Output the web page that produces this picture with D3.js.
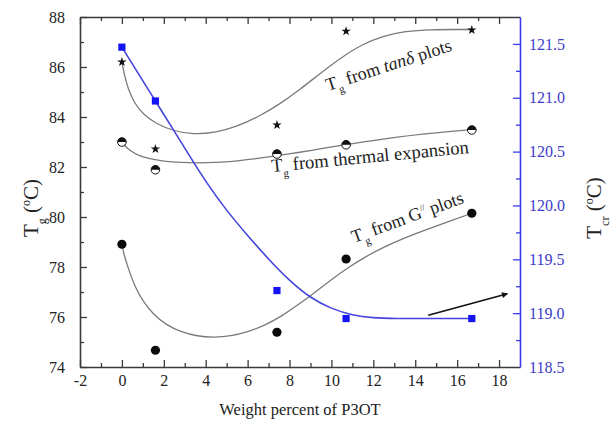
<!DOCTYPE html>
<html>
<head>
<meta charset="utf-8">
<script src="https://cdn.jsdelivr.net/npm/d3@7"></script>
<style>
  body { margin: 0; background: #fff; }
  svg { display: block; }
</style>
</head>
<body>
<svg id="chart" width="613" height="421"></svg>
<script>
// P3OT loading (wt%) of the measured blends
const loading = [0, 1.6, 7.4, 10.7, 16.7];

// Glass transition temperatures (left axis, °C)
const tgTanDelta = [86.2, 82.72, 83.68, 87.43, 87.48];
const tgThermal = [83.0, 81.89, 82.52, 82.89, 83.48];
const tgLossModulus = [78.91, 74.67, 75.39, 78.32, 80.15];

// Crystallisation temperature (right axis, °C)
const tcr = [121.47, 120.97, 119.21, 118.95, 118.95];

// Smoothed trend curves, sampled as [wt%, value]
const trendTanDelta = [[0,86.2],[0.1,85.75],[0.3,85.1],[0.6,84.55],[1.0,84.12],[1.6,83.74],[2.5,83.43],[3.4,83.3],[4.5,83.38],[5.5,83.62],[6.5,84.0],[7.5,84.5],[8.5,85.1],[9.5,85.77],[10.5,86.4],[11.5,86.92],[12.5,87.25],[13.5,87.43],[14.8,87.5],[15.8,87.5],[16.7,87.5]];
const trendThermal = [[0,83.0],[0.1,82.88],[0.4,82.64],[0.8,82.46],[1.3,82.33],[2.0,82.23],[2.8,82.18],[3.6,82.16],[4.5,82.18],[5.4,82.23],[6.4,82.33],[7.4,82.45],[8.5,82.59],[9.5,82.73],[10.6,82.89],[11.8,83.04],[13.0,83.18],[14.5,83.33],[15.8,83.43],[16.7,83.5]];
const trendLossModulus = [[0,78.91],[0.08,78.55],[0.3,77.95],[0.6,77.25],[1.0,76.63],[1.5,76.1],[2.1,75.7],[2.8,75.4],[3.6,75.23],[4.4,75.18],[5.2,75.24],[6.0,75.4],[6.8,75.66],[7.6,76.02],[8.4,76.48],[9.2,76.98],[10.0,77.5],[10.8,77.98],[11.6,78.4],[12.5,78.8],[13.5,79.17],[14.6,79.52],[15.7,79.85],[16.7,80.15]];
const trendTcr = [[0,121.47],[0.8,121.22],[1.6,120.97],[2.4,120.72],[3.2,120.47],[4.0,120.22],[5.0,119.95],[6.0,119.72],[7.0,119.5],[8.0,119.3],[9.0,119.14],[10.0,119.04],[11.0,118.98],[12.0,118.955],[13.0,118.95],[15.0,118.95],[16.7,118.95]];

// Axis ticks
const xMajor = [-2, 0, 2, 4, 6, 8, 10, 12, 14, 16, 18];
const xMinor = [-1, 1, 3, 5, 7, 9, 11, 13, 15, 17];
const yLeftMajor = [74, 76, 78, 80, 82, 84, 86, 88];
const yLeftMinor = [75, 77, 79, 81, 83, 85, 87];
const yRightMajor = [118.5, 119.0, 119.5, 120.0, 120.5, 121.0, 121.5];
const yRightMinor = [118.75, 119.25, 119.75, 120.25, 120.75, 121.25];

// Arrow pointing the T_cr curve to its axis, in (wt%, T_cr) units
const arrowFrom = [14.62, 118.98];
const arrowTo = [18.4, 119.18];

const FONT = '"Liberation Serif", Tinos, serif';
const svg = d3.select("#chart").style("font-family", FONT);
const plotLeft = 80, plotRight = 520, plotTop = 17, plotBottom = 367;

const x = d3.scaleLinear().domain([-2, 19]).range([plotLeft, plotRight]);
const yL = d3.scaleLinear().domain([74, 88]).range([plotBottom, plotTop]);
const yR = d3.scaleLinear().domain([118.5, 121.75]).range([plotBottom, plotTop]);

const frameColor = "#3a3a3a";
const blueAxis = "#3b3bf0";
const blueText = "#3c3cc8";

function styleAxis(g, color, textColor) {
  g.attr("font-family", null).attr("font-size", null);
  g.select(".domain").attr("stroke", color).attr("stroke-width", 1.6);
  g.selectAll(".tick line").attr("stroke", color).attr("stroke-width", 1.3);
  g.selectAll(".tick text")
    .attr("fill", textColor)
    .style("font-family", FONT)
    .style("font-size", "16px");
}

// Bottom axis
const gB = svg.append("g").attr("transform", `translate(0,${plotBottom})`)
  .call(d3.axisBottom(x).tickValues(xMajor).tickSize(-7).tickSizeOuter(0).tickPadding(8).tickFormat(d3.format("d")));
styleAxis(gB, frameColor, "#222");
gB.selectAll(".tick text").text(d => d < 0 ? "-" + Math.abs(d) : d);
const gBm = svg.append("g").attr("transform", `translate(0,${plotBottom})`)
  .call(d3.axisBottom(x).tickValues(xMinor).tickSize(-4).tickSizeOuter(0).tickFormat(""));
styleAxis(gBm, frameColor, "#222");
gBm.select(".domain").remove();

// Top axis (ticks only)
const gT = svg.append("g").attr("transform", `translate(0,${plotTop})`)
  .call(d3.axisTop(x).tickValues(xMajor).tickSize(-7).tickSizeOuter(0).tickFormat(""));
styleAxis(gT, frameColor, "#222");
const gTm = svg.append("g").attr("transform", `translate(0,${plotTop})`)
  .call(d3.axisTop(x).tickValues(xMinor).tickSize(-4).tickSizeOuter(0).tickFormat(""));
styleAxis(gTm, frameColor, "#222");
gTm.select(".domain").remove();

// Left axis (T_g)
const gL = svg.append("g").attr("transform", `translate(${plotLeft},0)`)
  .call(d3.axisLeft(yL).tickValues(yLeftMajor).tickSize(-7).tickSizeOuter(0).tickPadding(15).tickFormat(d3.format("d")));
styleAxis(gL, frameColor, "#222");
const gLm = svg.append("g").attr("transform", `translate(${plotLeft},0)`)
  .call(d3.axisLeft(yL).tickValues(yLeftMinor).tickSize(-4).tickSizeOuter(0).tickFormat(""));
styleAxis(gLm, frameColor, "#222");
gLm.select(".domain").remove();

// Right axis (T_cr)
const gR = svg.append("g").attr("transform", `translate(${plotRight},0)`)
  .call(d3.axisRight(yR).tickValues(yRightMajor).tickSize(-7).tickSizeOuter(0).tickPadding(9).tickFormat(d3.format(".1f")));
styleAxis(gR, blueAxis, blueText);
gR.selectAll(".tick").filter(d => d === 118.5).select("line").remove();
const gRm = svg.append("g").attr("transform", `translate(${plotRight},0)`)
  .call(d3.axisRight(yR).tickValues(yRightMinor).tickSize(-4).tickSizeOuter(0).tickFormat(""));
styleAxis(gRm, blueAxis, blueText);
gRm.select(".domain").remove();

// Trend curves
const lineL = d3.line().x(d => x(d[0])).y(d => yL(d[1])).curve(d3.curveBasis);
const lineR = d3.line().x(d => x(d[0])).y(d => yR(d[1])).curve(d3.curveBasis);

[trendTanDelta, trendThermal, trendLossModulus].forEach(c => {
  svg.append("path").attr("d", lineL(c)).attr("fill", "none")
    .attr("stroke", "#7a7a7a").attr("stroke-width", 1.3);
});
svg.append("path").attr("d", lineR(trendTcr)).attr("fill", "none")
  .attr("stroke", "#4545dc").attr("stroke-width", 1.6);

// Markers: stars (tan δ)
svg.append("g").selectAll("path").data(loading).join("path")
  .attr("d", d3.symbol(d3.symbolStar, 28))
  .attr("transform", (d, i) => `translate(${x(d)},${yL(tgTanDelta[i])})`)
  .attr("fill", "#111");

// Markers: half-filled circles (thermal expansion)
const half = d3.arc().innerRadius(0).outerRadius(4.3).startAngle(-Math.PI / 2).endAngle(Math.PI / 2);
const gTh = svg.append("g").selectAll("g").data(loading).join("g")
  .attr("transform", (d, i) => `translate(${x(d)},${yL(tgThermal[i])})`);
gTh.append("circle").attr("r", 4.3).attr("fill", "#fff").attr("stroke", "#111").attr("stroke-width", 1);
gTh.append("path").attr("d", half()).attr("fill", "#111");

// Markers: filled circles (G'')
svg.append("g").selectAll("circle").data(loading).join("circle")
  .attr("cx", d => x(d)).attr("cy", (d, i) => yL(tgLossModulus[i]))
  .attr("r", 4.6).attr("fill", "#0a0a0a");

// Markers: blue squares (T_cr)
svg.append("g").selectAll("rect").data(loading).join("rect")
  .attr("x", d => x(d) - 3.6).attr("y", (d, i) => yR(tcr[i]) - 3.6)
  .attr("width", 7.2).attr("height", 7.2).attr("fill", "#1414f5");

// Arrow
svg.append("defs").append("marker")
  .attr("id", "head").attr("viewBox", "0 0 10 10").attr("refX", 9).attr("refY", 5)
  .attr("markerWidth", 8).attr("markerHeight", 6).attr("orient", "auto")
  .attr("markerUnits", "userSpaceOnUse")
  .append("path").attr("d", "M0,0 L10,5 L0,10 z").attr("fill", "#111");
svg.append("line")
  .attr("x1", x(arrowFrom[0])).attr("y1", yR(arrowFrom[1]))
  .attr("x2", x(arrowTo[0])).attr("y2", yR(arrowTo[1]))
  .attr("stroke", "#111").attr("stroke-width", 1.6).attr("marker-end", "url(#head)");

// Curve labels
function curveLabel(px, py, angle, size, parts) {
  const t = svg.append("text")
    .attr("transform", `translate(${px},${py}) rotate(${angle})`)
    .attr("fill", "#222").style("font-family", FONT).style("font-size", size + "px");
  parts.forEach(p => {
    const s = t.append("tspan").text(p.text);
    if (p.dy) s.attr("dy", p.dy);
    if (p.size) s.style("font-size", p.size + "px");
    if (p.italic) s.style("font-style", "italic");
  });
}
curveLabel(328, 91, -18, 18, [
  { text: "T" }, { text: "g", size: 11, dy: 6 }, { text: " from ", dy: -6 },
  { text: "tan", italic: true }, { text: "δ", italic: true }, { text: " plots" }
]);
curveLabel(272, 172, -5.5, 18.5, [
  { text: "T" }, { text: "g", size: 11, dy: 6 }, { text: " from thermal expansion", dy: -6 }
]);
curveLabel(354, 243, -20, 18, [
  { text: "T" }, { text: "g", size: 11, dy: 6 }, { text: " from G", dy: -6 },
  { text: "//", size: 9, dy: -7 }, { text: " plots", dy: 7 }
]);

// Axis titles
svg.append("text")
  .attr("x", 300).attr("y", 415).attr("text-anchor", "middle")
  .attr("fill", "#222").style("font-family", FONT).style("font-size", "16.5px")
  .text("Weight percent of P3OT");

function tempTitle(px, py, sub) {
  const t = svg.append("text")
    .attr("transform", `translate(${px},${py}) rotate(-90)`)
    .attr("text-anchor", "middle").attr("fill", "#222")
    .style("font-family", FONT).style("font-size", "21px");
  t.append("tspan").text("T");
  t.append("tspan").text(sub).style("font-size", "12px").attr("dy", 8);
  t.append("tspan").text(" (").attr("dy", -8);
  t.append("tspan").text("o").style("font-size", "12px").attr("dy", -8);
  t.append("tspan").text("C)").attr("dy", 8);
}
tempTitle(38, 208, "g");
tempTitle(601, 208, "cr");
</script>
</body>
</html>
